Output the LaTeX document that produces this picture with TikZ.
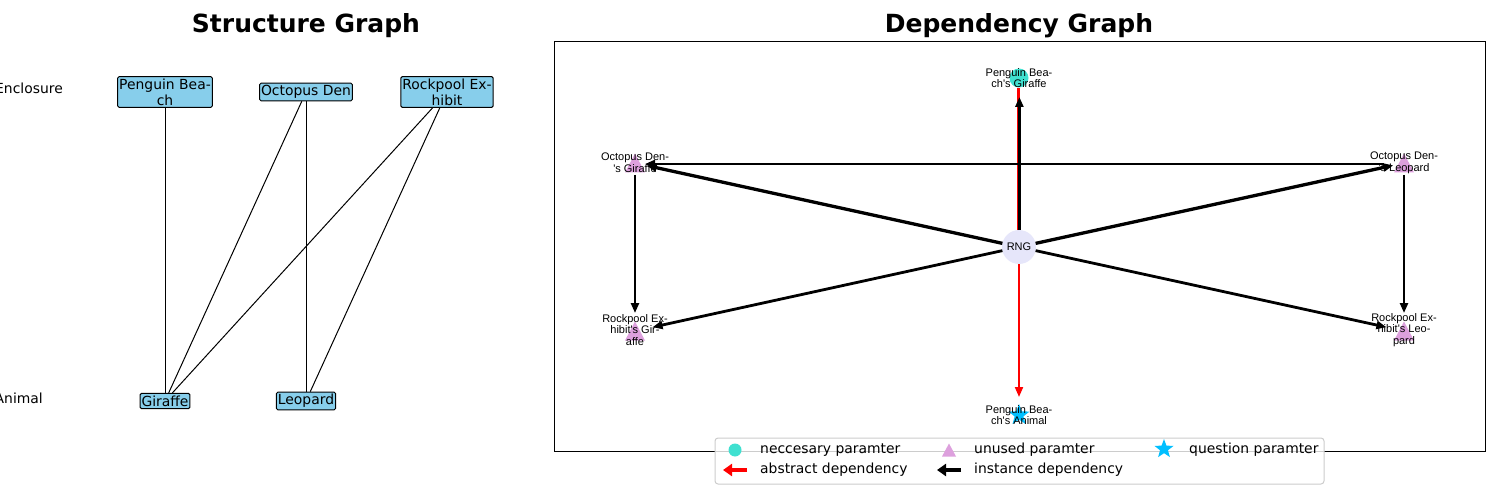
\documentclass[tikz,border=0pt]{standalone}
\usepackage{fontspec}
\setmainfont{DejaVu Sans}
\newfontfamily\arialfont{Liberation Sans}
\usetikzlibrary{arrows.meta,shapes.geometric}
\definecolor{turq}{HTML}{40E0D0}
\definecolor{plumc}{HTML}{DDA0DD}
\definecolor{lav}{HTML}{E6E6FA}
\definecolor{skyb}{HTML}{87CEEB}
\definecolor{dsky}{HTML}{00BFFF}
\definecolor{legborder}{HTML}{CCCCCC}
\newcommand{\apos}{\textquotesingle}
\begin{document}
\begin{tikzpicture}[x=1pt,y=-1pt,
  titlestyle/.style={font=\fontsize{25}{30}\selectfont\bfseries, inner sep=0},
  snode/.style={draw=black, line width=1pt, fill=skyb, rounded corners=1.5pt, inner xsep=1.5pt, inner ysep=2.2pt, align=center, font=\fontsize{13.9}{15.8}\selectfont},
  lvl/.style={anchor=east, inner sep=0, font=\fontsize{13.9}{16}\selectfont},
  sedge/.style={draw=black, line width=1pt},
  dlabel/.style={inner sep=0, align=center, font=\arialfont\fontsize{11}{11.8}\selectfont},
  legtext/.style={anchor=west, inner sep=0, font=\fontsize{13.9}{16}\selectfont},
  tip/.style={-{Triangle[length=10pt,width=8pt]}},
  inst/.style={draw=black, tip},
  abst/.style={draw=red, line width=2pt, tip},
  trimark/.pic={\fill[plumc] (-10,9.5) -- (10,9.5) -- (0,-9.5) -- cycle;},
  smalltri/.pic={\fill[plumc] (-7,6.5) -- (7,6.5) -- (0,-6.5) -- cycle;}
]
\useasboundingbox (0,0) rectangle (1500,500);

% titles
\node[titlestyle] (t1) at (306,26) {Structure Graph};
\node[titlestyle] (t2) at (1019,26) {Dependency Graph};

% ---------- structure graph ----------
\node[lvl] (enc) at (63,88) {Enclosure};
\node[lvl] (ani) at (43,398) {Animal};

\node[snode] (pb) at (165,92) {Penguin Bea-\\ch};
\node[snode] (od) at (306,92) {Octopus Den};
\node[snode] (rp) at (447,92) {Rockpool Ex-\\hibit};
\node[snode] (gi) at (165,401) {Giraffe};
\node[snode] (le) at (306,401) {Leopard};

\draw[sedge] (pb) -- (gi);
\draw[sedge] (od) -- (gi);
\draw[sedge] (od) -- (le);
\draw[sedge] (rp) -- (gi);
\draw[sedge] (rp) -- (le);

% ---------- dependency graph ----------
\draw[black, line width=1pt] (554,42) rectangle (1485,451);

\coordinate (pbg) at (1019,78);
\coordinate (odg) at (635,163);
\coordinate (odl) at (1404,163);
\coordinate (rng) at (1019,247);
\coordinate (rbg) at (635,331);
\coordinate (rbl) at (1404,331);
\coordinate (pba) at (1019,415);

% markers
\fill[turq] (pbg) circle (9.5);
\pic at (odg) {trimark};
\pic at (odl) {trimark};
\pic at (rbg) {trimark};
\pic at (rbl) {trimark};
\fill[lav] (rng) circle (17);
\node[star, star points=5, star point ratio=2.4, fill=dsky, inner sep=0, minimum size=22pt] (pbastar) at (pba) {};

% labels
\node[dlabel] (pbgl) at (pbg) {Penguin Bea-\\ch\apos s Giraffe};
\node[dlabel] (odgl) at (odg) {Octopus Den-\\\apos s Giraffe};
\node[dlabel] (odll) at (odl) {Octopus Den-\\\apos s Leopard};
\node[dlabel] (rngl) at (rng) {RNG};
\node[dlabel] (rbgl) at ([yshift=1]rbg) {Rockpool Ex-\\hibit\apos s Gir-\\affe};
\node[dlabel] (rbll) at ([yshift=1]rbl) {Rockpool Ex-\\hibit\apos s Leo-\\pard};
\node[dlabel] (pbal) at (pba) {Penguin Bea-\\ch\apos s Animal};

% edges
\draw[draw=red, line width=2.6pt, shorten <=17, shorten >=10] ([xshift=-0.6]rng) -- ([xshift=-0.6]pbg);
\draw[inst, line width=2.4pt, shorten <=17, shorten >=19] ([xshift=0.4]rng) -- ([xshift=0.4]pbg);
\draw[abst, shorten <=17, shorten >=18] (rng) -- (pba);
\draw[inst, line width=2.4pt, shorten <=20, shorten >=10] ([yshift=-1]odl) -- ([yshift=-1]odg);
\draw[inst, line width=3.3pt, shorten <=17, shorten >=12] (rng) -- (odg);
\draw[inst, line width=3.3pt, shorten <=17, shorten >=11] (rng) -- (odl);
\draw[inst, line width=2.4pt, shorten <=12, shorten >=18] (odg) -- (rbg);
\draw[inst, line width=2.4pt, shorten <=12, shorten >=18] (odl) -- (rbl);
\draw[inst, line width=2.8pt, shorten <=17, shorten >=18] (rng) -- (rbg);
\draw[inst, line width=2.8pt, shorten <=17, shorten >=18] (rng) -- (rbl);

% legend
\draw[legborder, line width=1pt, fill=white, fill opacity=0.8, rounded corners=3pt] (715,438) rectangle (1324,484);
\fill[turq] (735,450) circle (6.5);
\pic at (949,450) {smalltri};
\node[star, star points=5, star point ratio=2.4, fill=dsky, inner sep=0, minimum size=20pt] (legstar) at (1164,449) {};
\coordinate (lra) at (747,470);
\coordinate (lrb) at (723,470);
\coordinate (lba) at (961,470);
\coordinate (lbb) at (937,470);
\draw[red, line width=4pt, -{Triangle[length=9pt,width=12pt]}] (lra) -- (lrb);
\draw[black, line width=4pt, -{Triangle[length=9pt,width=12pt]}] (lba) -- (lbb);
\node[legtext] (lg1) at (760,450) {neccesary paramter};
\node[legtext] (lg2) at (974,450) {unused paramter};
\node[legtext] (lg3) at (1189,450) {question paramter};
\node[legtext] (lg4) at (760,470) {abstract dependency};
\node[legtext] (lg5) at (974,470) {instance dependency};
\end{tikzpicture}
\end{document}
